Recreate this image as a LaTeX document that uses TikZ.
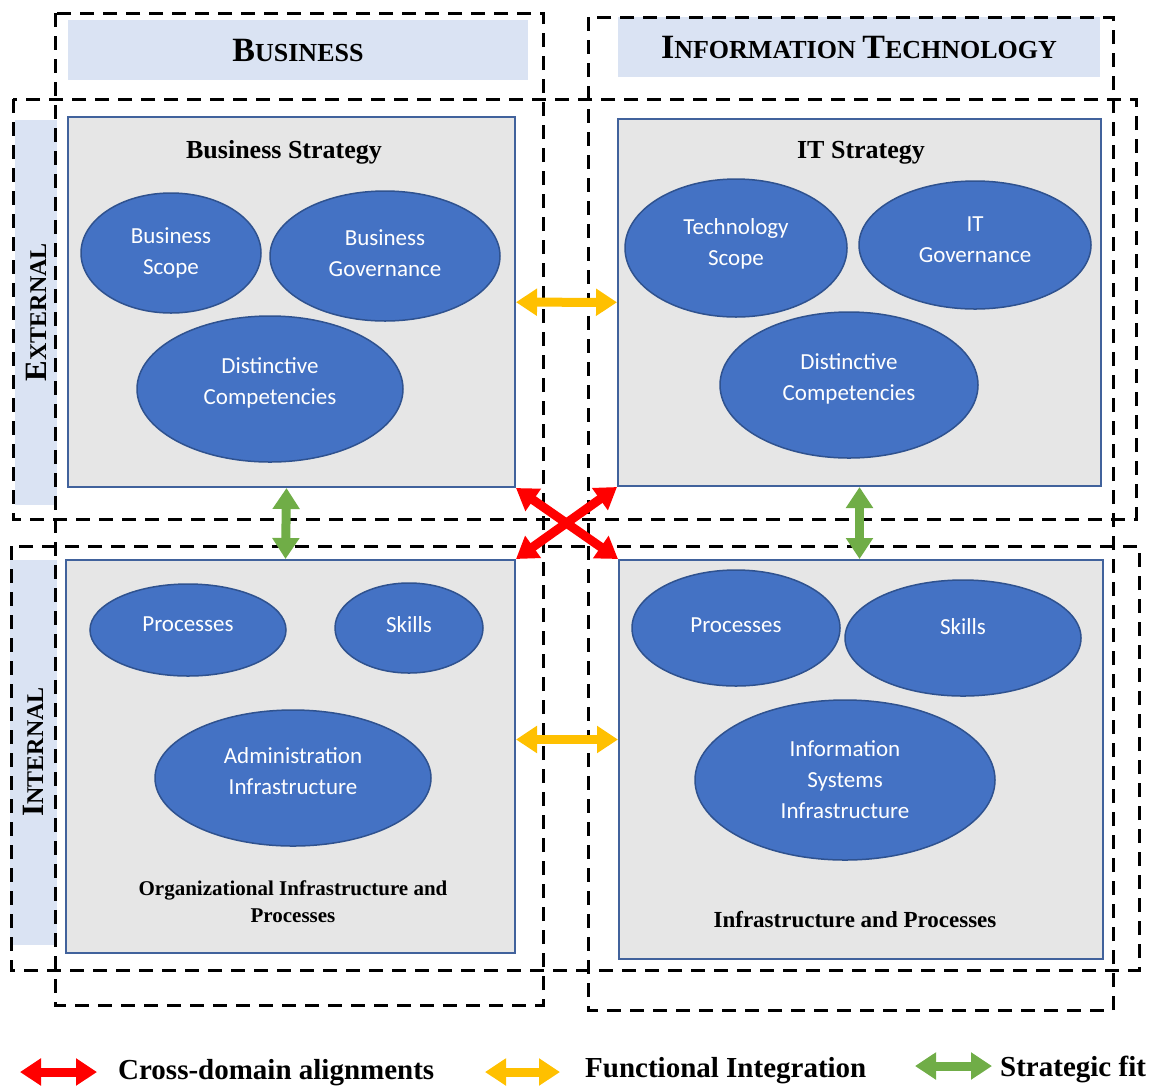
\documentclass[tikz,border=0pt]{standalone}
\usepackage{fontspec}
\setmainfont{Liberation Serif}
\newfontfamily\bubblefont{Carlito}
\usepackage{tikz}
\usetikzlibrary{shapes.geometric,arrows.meta}
\definecolor{quadfill}{HTML}{E6E6E6}
\definecolor{quadline}{HTML}{41629C}
\definecolor{bubblefill}{HTML}{4472C4}
\definecolor{bubbleline}{HTML}{2F528F}
\definecolor{headfill}{HTML}{DAE3F3}
\definecolor{crossred}{HTML}{FF0000}
\definecolor{funcyellow}{HTML}{FFC000}
\definecolor{fitgreen}{HTML}{70AD47}
% fake small caps: big first letter, smaller rest
\newcommand{\capsc}[4]{{\fontsize{#1}{#1}\selectfont #3}{\fontsize{#2}{#2}\selectfont #4}}

\begin{document}
\begin{tikzpicture}[x=1pt, y=-1pt,
    header/.style={fill=headfill, inner sep=0pt, font=\bfseries\fontsize{26}{26}\selectfont},
    region/.style={draw, line width=3pt, dash pattern=on 14pt off 9pt},
    quad/.style={draw=quadline, line width=2pt, fill=quadfill, inner sep=0pt},
    quadtitle/.style={font=\bfseries\fontsize{26}{30}\selectfont, align=center},
    bubble/.style={ellipse, draw=bubbleline, line width=1.5pt, fill=bubblefill, text=white, inner sep=0pt, align=center, font=\bubblefont\fontsize{23}{31}\selectfont},
    twoway/.style={line width=9pt, {Triangle[length=21pt,width=26pt]}-{Triangle[length=21pt,width=26pt]}},
    legend/.style={anchor=west, inner sep=0pt, font=\bfseries\fontsize{29}{29}\selectfont},
  ]
  \useasboundingbox (0,0) rectangle (1155,1088);

  % column and row headers
  \node[header, minimum width=460pt, minimum height=60pt] (bizhead) at (298,50) {\capsc{34}{26}{B}{USINESS}};
  \node[header, minimum width=482pt, minimum height=60pt] (ithead) at (859,47) {\capsc{34}{26}{I}{NFORMATION} \capsc{34}{26}{T}{ECHNOLOGY}};
  \node[header, rotate=90, minimum width=385pt, minimum height=42pt] (exthead) at (36,312) {\capsc{31}{24}{E}{XTERNAL}};
  \node[header, rotate=90, minimum width=385pt, minimum height=47pt] (inthead) at (33,752) {\capsc{31}{24}{I}{NTERNAL}};

  % dashed domains
  \draw[region] (55,13) rectangle (543,1005);
  \draw[region] (588,17) rectangle (1113,1010);
  \draw[region] (13,99) rectangle (1136,519);
  \draw[region] (11,546) rectangle (1139,970);

  % quadrants
  \node[quad, minimum width=447pt, minimum height=370pt] (bizstrat) at (291.5,302) {};
  \node[quad, minimum width=483pt, minimum height=367pt] (itstrat) at (859.5,302.5) {};
  \node[quad, minimum width=449pt, minimum height=393pt] (orginfra) at (290.5,756.5) {};
  \node[quad, minimum width=484pt, minimum height=399pt] (isinfra) at (861,759.5) {};

  \node[quadtitle] (bizstrattitle) at (284,152) {Business Strategy};
  \node[quadtitle] (itstrattitle) at (861,153) {IT Strategy};
  \node[quadtitle, font=\bfseries\fontsize{21}{27}\selectfont] (orginfratitle) at (293,902) {Organizational Infrastructure and\\Processes};
  \node[quadtitle, font=\bfseries\fontsize{23}{27}\selectfont] (isinfratitle) at (855,920) {Infrastructure and Processes};

  % business strategy
  \node[bubble, minimum width=180pt, minimum height=120pt] (bscope) at (171,253) {Business\\Scope};
  \node[bubble, minimum width=230pt, minimum height=130pt, text depth=6pt] (bgov) at (385,256) {Business\\Governance};
  \node[bubble, minimum width=266pt, minimum height=146pt, text depth=16pt] (bcomp) at (270,389) {Distinctive\\Competencies};

  % it strategy
  \node[bubble, minimum width=222pt, minimum height=138pt, text depth=12pt] (tscope) at (736,248) {Technology\\Scope};
  \node[bubble, minimum width=232pt, minimum height=128pt, text depth=10pt] (itgov) at (975,245) {IT\\Governance};
  \node[bubble, minimum width=258pt, minimum height=146pt, text depth=16pt] (tcomp) at (849,385) {Distinctive\\Competencies};

  % organizational infrastructure
  \node[bubble, minimum width=196pt, minimum height=92pt, text depth=12pt] (oproc) at (188,630) {Processes};
  \node[bubble, minimum width=148pt, minimum height=90pt, text depth=8pt] (oskills) at (409,628) {Skills};
  \node[bubble, minimum width=276pt, minimum height=136pt, text depth=14pt] (admin) at (293,778) {Administration\\Infrastructure};

  % is infrastructure
  \node[bubble, minimum width=208pt, minimum height=116pt, text depth=6pt] (iproc) at (736,628) {Processes};
  \node[bubble, minimum width=236pt, minimum height=116pt, text depth=24pt] (iskills) at (963,638) {Skills};
  \node[bubble, minimum width=300pt, minimum height=160pt] (isys) at (845,780) {Information\\Systems\\Infrastructure};

  % alignments
  \draw[twoway, funcyellow] (bizstrat) -- (itstrat);
  \draw[twoway, funcyellow] ([yshift=17pt]orginfra.east) -- ([yshift=17pt]orginfra.east -| isinfra.west);
  \draw[twoway, fitgreen] ([xshift=-5pt]bizstrat.south) -- ([xshift=-5pt]orginfra.north);
  \draw[twoway, fitgreen] (itstrat.south) -- (itstrat.south |- isinfra.north);
  \draw[twoway, crossred] (bizstrat.south east) -- (isinfra.north west);
  \draw[twoway, crossred] (itstrat.south west) -- (orginfra.north east);

  % legend
  \coordinate (redl) at (20,1072);
  \coordinate (redr) at (97,1072);
  \coordinate (yell) at (485,1072);
  \coordinate (yelr) at (560,1072);
  \coordinate (grnl) at (915,1066);
  \coordinate (grnr) at (992,1066);
  \draw[twoway, crossred] (redl) -- (redr);
  \draw[twoway, funcyellow] (yell) -- (yelr);
  \draw[twoway, fitgreen] (grnl) -- (grnr);
  \node[legend] (crosstext) at (118,1073) {Cross-domain alignments};
  \node[legend] (functext) at (585,1071) {Functional Integration};
  \node[legend] (fittext) at (1000,1069) {Strategic fit};
\end{tikzpicture}
\end{document}
